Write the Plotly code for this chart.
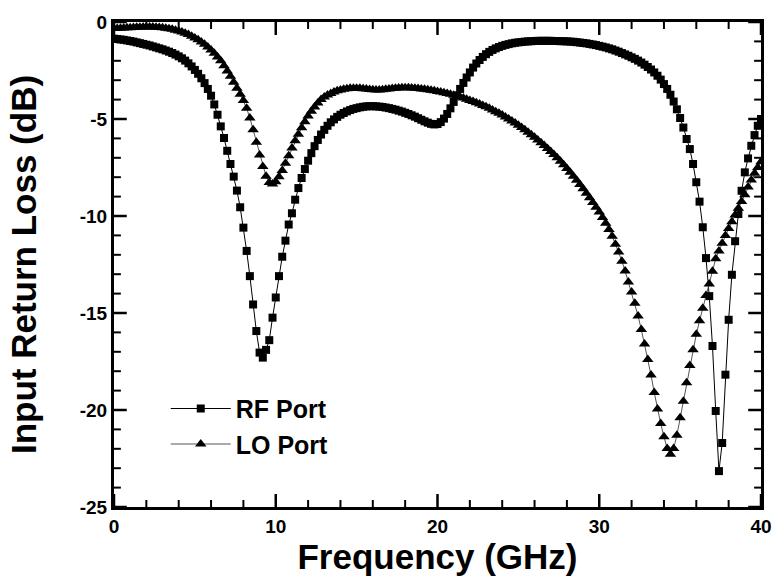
import plotly.graph_objects as go

# ---- data ----
freq_ghz = [round(0.2 * i, 1) for i in range(201)]  # 0 ... 40 GHz sweep, 0.2 GHz step

rf_port_db = [
    -0.86, -0.88, -0.90, -0.92, -0.95, -0.98, -1.01, -1.05, -1.09, -1.13,
    -1.17, -1.21, -1.26, -1.31, -1.36, -1.41, -1.47, -1.53, -1.60, -1.68,
    -1.77, -1.87, -1.99, -2.13, -2.29, -2.47, -2.67, -2.90, -3.15, -3.45,
    -3.80, -4.25, -4.78, -5.38, -5.98, -6.64, -7.32, -7.97, -8.69, -9.55,
    -10.60, -11.80, -13.10, -14.56, -15.93, -17.04, -17.30, -16.90, -16.40, -15.24,
    -14.20, -13.10, -12.10, -11.27, -10.44, -9.86, -9.16, -8.56, -8.04, -7.58,
    -7.15, -6.76, -6.40, -6.08, -5.80, -5.56, -5.35, -5.17, -5.02, -4.89,
    -4.78, -4.69, -4.61, -4.54, -4.48, -4.44, -4.40, -4.37, -4.35, -4.34,
    -4.34, -4.35, -4.36, -4.38, -4.41, -4.44, -4.48, -4.52, -4.57, -4.62,
    -4.68, -4.74, -4.81, -4.88, -4.96, -5.04, -5.12, -5.19, -5.25, -5.28,
    -5.26, -5.16, -4.98, -4.74, -4.45, -4.12, -3.78, -3.45, -3.14, -2.86,
    -2.60, -2.35, -2.14, -1.96, -1.80, -1.66, -1.54, -1.44, -1.36, -1.29,
    -1.23, -1.18, -1.14, -1.10, -1.07, -1.05, -1.03, -1.01, -1.00, -0.99,
    -0.98, -0.97, -0.97, -0.97, -0.97, -0.97, -0.98, -0.98, -0.99, -0.99,
    -1.00, -1.01, -1.02, -1.04, -1.06, -1.08, -1.10, -1.13, -1.16, -1.19,
    -1.23, -1.27, -1.31, -1.36, -1.41, -1.47, -1.53, -1.60, -1.67, -1.74,
    -1.82, -1.90, -1.99, -2.09, -2.20, -2.32, -2.45, -2.60, -2.77, -2.97,
    -3.20, -3.45, -3.75, -4.10, -4.50, -4.95, -5.44, -6.03, -6.55, -7.32,
    -8.26, -9.26, -10.58, -12.17, -14.13, -16.70, -20.05, -23.15, -21.70, -18.18,
    -15.35, -13.03, -11.30, -9.90, -8.70, -7.75, -7.03, -6.38, -5.83, -5.35,
    -5.00,
]

lo_port_db = [
    -0.34, -0.33, -0.32, -0.31, -0.30, -0.29, -0.28, -0.27, -0.27, -0.26,
    -0.26, -0.26, -0.26, -0.27, -0.28, -0.30, -0.32, -0.35, -0.38, -0.42,
    -0.47, -0.52, -0.58, -0.65, -0.73, -0.82, -0.92, -1.03, -1.15, -1.29,
    -1.44, -1.61, -1.80, -2.00, -2.25, -2.52, -2.80, -3.10, -3.42, -3.72,
    -4.05, -4.45, -4.95, -5.55, -6.20, -6.85, -7.45, -7.95, -8.27, -8.35,
    -8.23, -7.98, -7.65, -7.28, -6.90, -6.50, -6.12, -5.78, -5.45, -5.14,
    -4.85, -4.60, -4.38, -4.18, -4.00, -3.86, -3.76, -3.68, -3.61, -3.55,
    -3.50, -3.47, -3.44, -3.42, -3.41, -3.41, -3.42, -3.44, -3.46, -3.48,
    -3.49, -3.50, -3.50, -3.49, -3.47, -3.45, -3.43, -3.41, -3.40, -3.39,
    -3.39, -3.39, -3.40, -3.41, -3.43, -3.45, -3.47, -3.49, -3.52, -3.55,
    -3.58, -3.61, -3.65, -3.69, -3.73, -3.77, -3.82, -3.87, -3.92, -3.98,
    -4.04, -4.10, -4.16, -4.23, -4.30, -4.37, -4.45, -4.53, -4.62, -4.71,
    -4.80, -4.90, -5.00, -5.10, -5.21, -5.32, -5.44, -5.56, -5.68, -5.81,
    -5.94, -6.08, -6.22, -6.37, -6.52, -6.67, -6.83, -7.00, -7.18, -7.36,
    -7.55, -7.75, -7.95, -8.16, -8.38, -8.60, -8.83, -9.06, -9.30, -9.55,
    -9.80, -10.08, -10.38, -10.70, -11.05, -11.45, -11.86, -12.33, -12.84, -13.40,
    -13.92, -14.50, -15.15, -15.85, -16.60, -17.40, -18.20, -19.10, -19.95, -20.70,
    -21.38, -21.98, -22.28, -21.98, -21.30, -20.40, -19.55, -18.60, -17.70, -16.90,
    -16.10, -15.40, -14.75, -14.10, -13.50, -12.85, -12.20, -11.80, -11.40, -11.00,
    -10.65, -10.30, -9.95, -9.60, -9.25, -8.90, -8.50, -8.15, -7.80, -7.50,
    -7.20,
]

x_tick_vals = [0, 10, 20, 30, 40]
x_tick_text = ["0", "10", "20", "30", "40"]
y_tick_vals = [0, -5, -10, -15, -20, -25]
y_tick_text = ["0", "-5", "-10", "-15", "-20", "-25"]
x_minor_vals = [v for v in range(0, 41, 2) if v not in x_tick_vals]
y_minor_vals = [v for v in range(-25, 1) if v not in y_tick_vals]

series_names = ["RF Port", "LO Port"]
x_title = "Frequency (GHz)"
y_title = "Input Return Loss (dB)"

# ---- figure geometry ----
FONT = "Liberation Sans, Arial, Helvetica, sans-serif"
W, H = 784, 578
ML, MR, MT, MB = 114, 12, 21, 71
X_RANGE = [0, 40]
Y_RANGE = [-25, 0]
PX_PER_X = (W - ML - MR) / (X_RANGE[1] - X_RANGE[0])
PX_PER_Y = (H - MT - MB) / (Y_RANGE[1] - Y_RANGE[0])
MAJOR_LEN, MINOR_LEN = 13, 7


def bold(s):
    return "<b>" + s + "</b>"


def tick_segments(xvals, yvals, length_px):
    """Inward tick segments on all four sides (None-separated)."""
    xs, ys = [], []
    dy = length_px / PX_PER_Y
    dx = length_px / PX_PER_X
    for v in xvals:
        xs += [v, v, None, v, v, None]
        ys += [Y_RANGE[0], Y_RANGE[0] + dy, None, Y_RANGE[1], Y_RANGE[1] - dy, None]
    for v in yvals:
        xs += [X_RANGE[0], X_RANGE[0] + dx, None, X_RANGE[1], X_RANGE[1] - dx, None]
        ys += [v, v, None, v, v, None]
    return xs, ys


fig = go.Figure()
fig.add_trace(go.Scatter(
    x=freq_ghz, y=rf_port_db, mode="lines+markers", name=bold(series_names[0]),
    legendgroup="rf",
    line=dict(color="black", width=1),
    marker=dict(symbol="square", size=8, color="black", line=dict(width=0)),
))
fig.add_trace(go.Scatter(
    x=freq_ghz, y=lo_port_db, mode="lines+markers", name=bold(series_names[1]),
    legendgroup="lo",
    line=dict(color="#555555", width=1),
    marker=dict(symbol="triangle-up", size=10, color="black", line=dict(width=0)),
))

# axis tick marks (decoration) drawn as line traces
mx, my = tick_segments(x_tick_vals, y_tick_vals, MAJOR_LEN)
fig.add_trace(go.Scatter(x=mx, y=my, mode="lines", showlegend=False, hoverinfo="skip",
                         line=dict(color="black", width=2.5)))
nx, ny = tick_segments(x_minor_vals, y_minor_vals, MINOR_LEN)
fig.add_trace(go.Scatter(x=nx, y=ny, mode="lines", showlegend=False, hoverinfo="skip",
                         line=dict(color="black", width=2)))

fig.update_xaxes(
    range=X_RANGE, showline=True, linewidth=3, linecolor="black",
    mirror=True, ticks="",
    tickmode="array", tickvals=x_tick_vals,
    ticktext=[bold(t) for t in x_tick_text],
    tickfont=dict(family=FONT, size=19, color="black"),
    showgrid=False, zeroline=False,
    title=dict(text=bold(x_title), standoff=4,
               font=dict(family=FONT, size=35, color="black")),
)
fig.update_yaxes(
    range=Y_RANGE, showline=True, linewidth=3, linecolor="black",
    mirror=True, ticks="",
    tickmode="array", tickvals=y_tick_vals,
    ticktext=[bold(t) for t in y_tick_text],
    tickfont=dict(family=FONT, size=19, color="black"),
    showgrid=False, zeroline=False,
    title=dict(text=bold(y_title), standoff=33,
               font=dict(family=FONT, size=35, color="black")),
)

fig.update_layout(
    width=W, height=H,
    margin=dict(l=ML, r=MR, t=MT, b=MB),
    paper_bgcolor="white", plot_bgcolor="white",
    showlegend=True,
    legend=dict(
        x=0.08, y=0.25, xanchor="left", yanchor="top",
        bgcolor="rgba(0,0,0,0)", borderwidth=0,
        font=dict(family=FONT, size=25, color="black"),
        itemwidth=60, tracegroupgap=0,
    ),
)

fig.write_html("out.html")
